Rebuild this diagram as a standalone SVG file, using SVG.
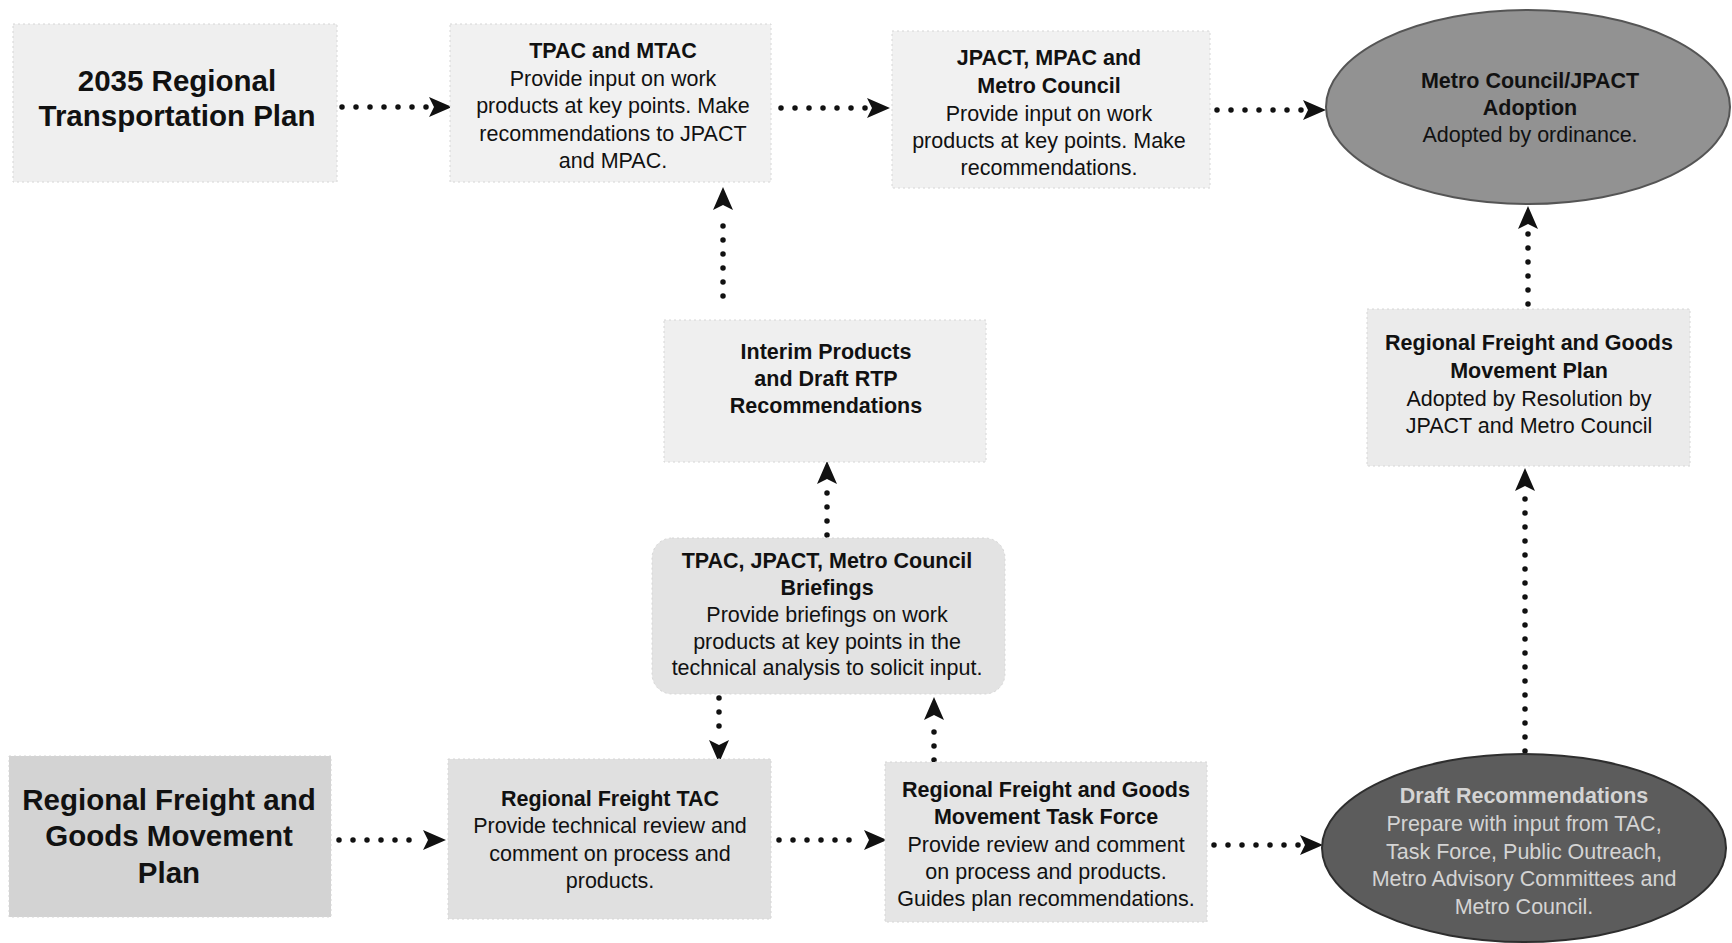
<svg xmlns="http://www.w3.org/2000/svg" width="1732" height="943" viewBox="0 0 1732 943">
<style>
text{font-family:"Liberation Sans",Arial,sans-serif;fill:#111;text-anchor:middle}
.t{font-size:21.5px}
.b{font-weight:bold}
.big{font-size:29.5px;font-weight:bold}
.box{stroke:#d6d6d6;stroke-width:1;stroke-dasharray:2 3}
.dot{fill:none;stroke:#111;stroke-width:5.5;stroke-linecap:round;stroke-dasharray:0 14}
.lt{fill:#d4d4d4}
.dk{fill:#1a1a1a}
</style>
<defs>
<marker id="ah" markerUnits="userSpaceOnUse" markerWidth="24" markerHeight="20" refX="22" refY="10" orient="auto">
<path d="M0,0 L23,10 L0,20 L5,10 z" fill="#111"/>
</marker>
</defs>
<rect width="1732" height="943" fill="#fff"/>

<g id="connectors">
<path class="dot" d="M342,107 H428"/><path d="M428,107 H451" stroke="none" marker-end="url(#ah)"/>
<path class="dot" d="M781,108 H866"/><path d="M866,108 H889" stroke="none" marker-end="url(#ah)"/>
<path class="dot" d="M1217,110 H1302"/><path d="M1302,110 H1325" stroke="none" marker-end="url(#ah)"/>
<path class="dot" d="M723,296 V212"/><path d="M723,212 V188" stroke="none" marker-end="url(#ah)"/>
<path class="dot" d="M827,535 V486"/><path d="M827,486 V462" stroke="none" marker-end="url(#ah)"/>
<path class="dot" d="M719,698 V738"/><path d="M719,738 V762" stroke="none" marker-end="url(#ah)"/>
<path class="dot" d="M934,760 V722"/><path d="M934,722 V698" stroke="none" marker-end="url(#ah)"/>
<path class="dot" d="M339,840 H422"/><path d="M422,840 H445" stroke="none" marker-end="url(#ah)"/>
<path class="dot" d="M779,840 H863"/><path d="M863,840 H886" stroke="none" marker-end="url(#ah)"/>
<path class="dot" d="M1214,845 H1299"/><path d="M1299,845 H1322" stroke="none" marker-end="url(#ah)"/>
<path class="dot" d="M1525,751 V493"/><path d="M1525,493 V469" stroke="none" marker-end="url(#ah)"/>
<path class="dot" d="M1528,304 V231"/><path d="M1528,231 V207" stroke="none" marker-end="url(#ah)"/>
</g>

<g id="rtp2035">
<rect class="box" x="13" y="24" width="324" height="158" fill="#efefef"/>
<text class="big" x="177" y="91">2035 Regional</text>
<text class="big" x="177" y="126">Transportation Plan</text>
</g>

<g id="tpac-mtac">
<rect class="box" x="450" y="24" width="321" height="158" fill="#f1f1f1"/>
<text class="t b" x="613" y="58">TPAC and MTAC</text>
<text class="t" x="613" y="86">Provide input on work</text>
<text class="t" x="613" y="113">products at key points. Make</text>
<text class="t" x="613" y="141">recommendations to JPACT</text>
<text class="t" x="613" y="168">and MPAC.</text>
</g>

<g id="jpact-mpac">
<rect class="box" x="892" y="31" width="318" height="157" fill="#f1f1f1"/>
<text class="t b" x="1049" y="65">JPACT, MPAC and</text>
<text class="t b" x="1049" y="93">Metro Council</text>
<text class="t" x="1049" y="121">Provide input on work</text>
<text class="t" x="1049" y="148">products at key points. Make</text>
<text class="t" x="1049" y="175">recommendations.</text>
</g>

<g id="adoption">
<ellipse cx="1528" cy="107" rx="202" ry="97" fill="#929292" stroke="#555" stroke-width="2"/>
<text class="t b" x="1530" y="88">Metro Council/JPACT</text>
<text class="t b" x="1530" y="115">Adoption</text>
<text class="t" x="1530" y="142">Adopted by ordinance.</text>
</g>

<g id="interim">
<rect class="box" x="664" y="320" width="322" height="142" fill="#efefef"/>
<text class="t b" x="826" y="359">Interim Products</text>
<text class="t b" x="826" y="386">and Draft RTP</text>
<text class="t b" x="826" y="413">Recommendations</text>
</g>

<g id="briefings">
<rect class="box" x="652" y="538" width="353" height="156" rx="20" fill="#e3e3e3"/>
<text class="t b" x="827" y="568">TPAC, JPACT, Metro Council</text>
<text class="t b" x="827" y="595">Briefings</text>
<text class="t" x="827" y="622">Provide briefings on work</text>
<text class="t" x="827" y="649">products at key points in the</text>
<text class="t" x="827" y="675">technical analysis to solicit input.</text>
</g>

<g id="rfgmp-adopted">
<rect class="box" x="1367" y="309" width="323" height="157" fill="#ebebeb"/>
<text class="t b" x="1529" y="350">Regional Freight and Goods</text>
<text class="t b" x="1529" y="378">Movement Plan</text>
<text class="t" x="1529" y="406">Adopted by Resolution by</text>
<text class="t" x="1529" y="433">JPACT and Metro Council</text>
</g>

<g id="rfgmp">
<rect class="box" x="9" y="756" width="322" height="161" fill="#d3d3d3"/>
<text class="big" x="169" y="810">Regional Freight and</text>
<text class="big" x="169" y="846">Goods Movement</text>
<text class="big" x="169" y="883">Plan</text>
</g>

<g id="freight-tac">
<rect class="box" x="448" y="759" width="323" height="160" fill="#e0e0e0"/>
<text class="t b" x="610" y="806">Regional Freight TAC</text>
<text class="t" x="610" y="833">Provide technical review and</text>
<text class="t" x="610" y="861">comment on process and</text>
<text class="t" x="610" y="888">products.</text>
</g>

<g id="task-force">
<rect class="box" x="885" y="762" width="322" height="160" fill="#e5e5e5"/>
<text class="t b" x="1046" y="797">Regional Freight and Goods</text>
<text class="t b" x="1046" y="824">Movement Task Force</text>
<text class="t" x="1046" y="852">Provide review and comment</text>
<text class="t" x="1046" y="879">on process and products.</text>
<text class="t" x="1046" y="906">Guides plan recommendations.</text>
</g>

<g id="draft">
<ellipse cx="1524" cy="848" rx="202" ry="94" fill="#5c5c5c" stroke="#2e2e2e" stroke-width="2"/>
<text class="t b lt" x="1524" y="803">Draft Recommendations</text>
<text class="t lt" x="1524" y="831">Prepare with input from TAC,</text>
<text class="t lt" x="1524" y="859">Task Force, Public Outreach,</text>
<text class="t lt" x="1524" y="886">Metro Advisory Committees and</text>
<text class="t lt" x="1524" y="914">Metro Council.</text>
</g>
</svg>
